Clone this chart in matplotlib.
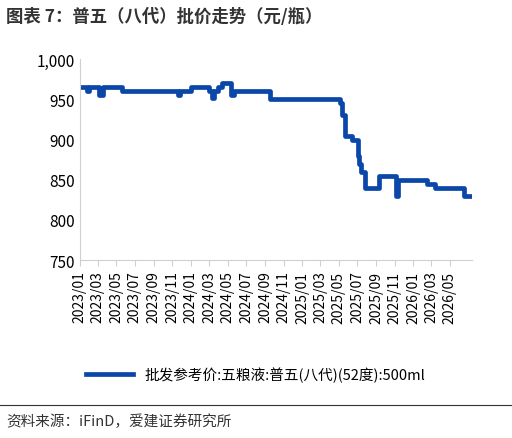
import matplotlib
matplotlib.use("Agg")
import matplotlib.pyplot as plt
import pandas as pd

plt.rcParams['font.family'] = ['Noto Sans CJK SC', 'DejaVu Sans']

# change points: (months since 2023-01-01, price)
months = [0, 0.8, 1.0, 2.1, 2.5, 4.6, 10.6, 10.8, 12.0, 14.0, 14.3, 14.5, 14.9, 15.3, 16.3, 16.6, 20.5,
          28.1, 28.3, 28.6, 29.4, 30.0, 30.2, 30.4, 30.8, 32.3, 34.2, 34.4, 37.5, 38.4, 41.5]
prices = [965, 960, 965, 955, 965, 960, 955, 960, 965, 960, 952, 960, 965, 970, 955, 960, 950,
          945, 930, 905, 900, 880, 870, 860, 840, 855, 830, 850, 845, 840, 830]
end_month = 42.3

base = pd.Timestamp('2023-01-01')
dates = [base + pd.Timedelta(days=m * 30.44) for m in months] + [base + pd.Timedelta(days=end_month * 30.44)]
vals = prices + [prices[-1]]

fig = plt.figure(figsize=(5.12, 4.39), dpi=100)
ax = fig.add_axes([0.156, 0.405, 0.766, 0.458])
ax.step(dates, vals, where='post', color='#0A47A8', lw=3.4, label='批发参考价:五粮液:普五(八代)(52度):500ml')
ax.set_ylim(750, 1000)
ax.set_yticks([750, 800, 850, 900, 950, 1000])
ax.yaxis.set_major_formatter(matplotlib.ticker.FuncFormatter(lambda v, p: f'{int(v):,}'))
ax.set_xlim(base, base + pd.Timedelta(days=end_month * 30.44 + 2))
ticks = pd.date_range('2023-01-01', '2026-05-01', freq='2MS')
ax.set_xticks(ticks)
ax.set_xticklabels([t.strftime('%Y/%m') for t in ticks], rotation=90, fontsize=10)
ax.tick_params(axis='y', labelsize=11, length=0)
ax.tick_params(axis='x', length=4, color='#d0d0d0')
for s in ['top', 'right']:
    ax.spines[s].set_visible(False)
ax.spines['left'].set_color('#d0d0d0')
ax.spines['bottom'].set_color('#d0d0d0')

fig.text(0.012, 0.962, '图表 7：普五（八代）批价走势（元/瓶）', fontsize=12.5, fontweight='bold', color='#333333', va='center')
fig.legend(loc='center', bbox_to_anchor=(0.5, 0.145), frameon=False, fontsize=10.5, handlelength=3.2)
fig.add_artist(plt.Line2D([0.0, 1.0], [0.075, 0.075], color='#333333', lw=0.8))
fig.text(0.012, 0.04, '资料来源：iFinD，爱建证券研究所', fontsize=10.5, color='#333333', va='center')
fig.savefig('out.png', dpi=100)
